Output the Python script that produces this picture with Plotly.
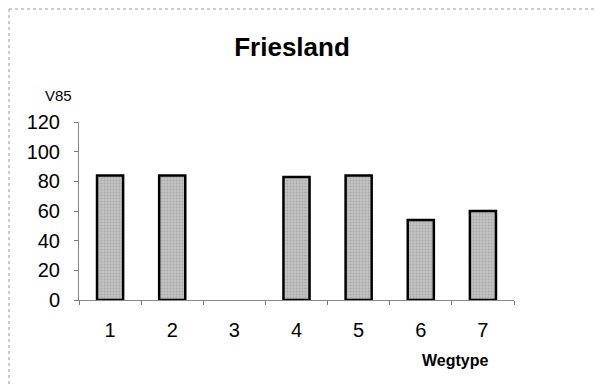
import plotly.graph_objects as go

# data
wegtype = ["1", "2", "3", "4", "5", "6", "7"]
v85 = [84, 84, None, 83, 84, 54, 60]

# the page puts the figure 8px in from the top-left corner,
# so reference pixel positions are shifted by OFF
OFF = 8
W, H = 605 - OFF, 387 - OFF
left, right, top, bottom = 79 - OFF, 514 - OFF, 122 - OFF, 300 - OFF
pw, ph = right - left, bottom - top


def px_x(x):
    return (x - OFF - left) / pw


def px_y(y):
    return (bottom - (y - OFF)) / ph


fig = go.Figure()

fig.add_trace(go.Bar(
    x=wegtype,
    y=v85,
    marker=dict(color="#c2c2c2", line=dict(color="black", width=2.5),
                pattern=dict(shape=".", fgcolor="#8f8f8f", size=3, solidity=0.3)),
    showlegend=False,
))

fig.update_layout(
    width=W,
    height=H,
    margin=dict(l=left, r=W - right, t=top, b=H - bottom),
    paper_bgcolor="white",
    plot_bgcolor="white",
    font=dict(family="Liberation Sans, Arial, sans-serif", color="black"),
    bargap=0.58,
    title=dict(text="<b>Friesland</b>", x=(292 - OFF) / W, y=1 - (47 - OFF) / H,
               xref="container", yref="container",
               xanchor="center", yanchor="middle",
               font=dict(size=26, color="black")),
)

fig.update_xaxes(
    type="category",
    tickson="boundaries",
    ticks="outside",
    ticklen=4,
    tickcolor="#777",
    showline=True,
    linecolor="#888",
    linewidth=1,
    showgrid=False,
    tickfont=dict(size=20),
    ticklabelstandoff=12,
)

fig.update_yaxes(
    range=[0, 120],
    tickvals=[0, 20, 40, 60, 80, 100, 120],
    ticks="outside",
    ticklen=4,
    tickcolor="#777",
    showline=True,
    linecolor="#888",
    linewidth=1,
    showgrid=False,
    zeroline=False,
    tickfont=dict(size=20),
    ticklabelstandoff=10,
)

fig.add_annotation(text="V85", x=px_x(58), y=px_y(95), xref="paper", yref="paper",
                   xanchor="center", yanchor="middle",
                   showarrow=False, font=dict(size=15))
fig.add_annotation(text="<b>Wegtype</b>", x=px_x(455), y=px_y(360), xref="paper", yref="paper",
                   xanchor="center", yanchor="middle",
                   showarrow=False, font=dict(size=16))

# dotted frame lines on the top and left edge (as far out as the figure allows)
edge_x, edge_y = px_x(OFF + 1), px_y(OFF + 1)
fig.add_shape(type="line", xref="paper", yref="paper",
              x0=edge_x, x1=px_x(605), y0=edge_y, y1=edge_y,
              line=dict(color="#999", width=1, dash="dot"))
fig.add_shape(type="line", xref="paper", yref="paper",
              x0=edge_x, x1=edge_x, y0=edge_y, y1=px_y(387),
              line=dict(color="#999", width=1, dash="dot"))

fig.write_html("out.html")
